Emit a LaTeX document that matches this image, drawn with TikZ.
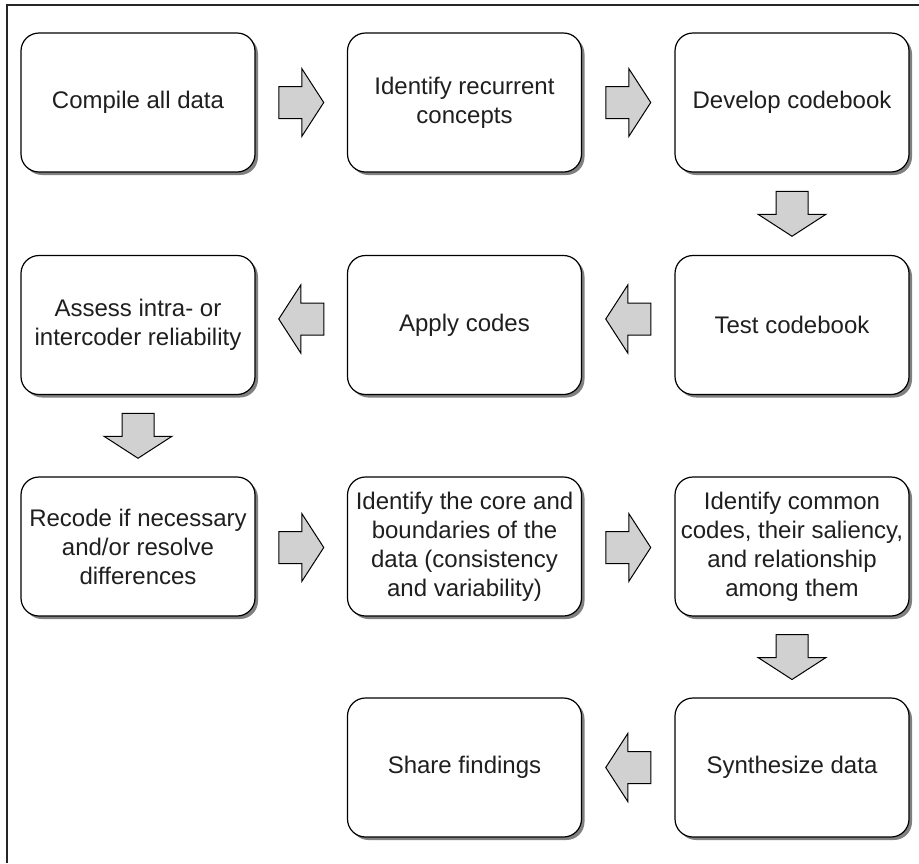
\documentclass[tikz,border=0pt]{standalone}
\usepackage{fontspec}
\setmainfont{Liberation Sans}
\usetikzlibrary{calc,shadows}
\tikzset{
  stepbox/.style={draw=black, line width=1.2pt, rounded corners=18pt, fill=white,
    minimum width=234pt, minimum height=139pt, align=center,
    font=\fontsize{24}{29}\selectfont, text=black!88, inner sep=2pt,
    drop shadow={shadow xshift=3pt, shadow yshift=-3pt, fill=black!50, opacity=1}},
  blockarrow/.style={draw=black, line width=1pt, fill=black!18, line join=miter},
  framerule/.style={draw=black!85, line width=1.5pt}
}
% horizontal block arrow between two nodes: #1 from, #2 to, #3 direction (1 or -1), #4 y offset
\newcommand{\HArrow}[4]{%
  \coordinate (hm) at ($(#1)!0.5!(#2)+(0,#4)$);
  \begin{scope}[shift={(hm)}, xscale=#3]
    \draw[blockarrow] (-22.5,-16) -- (0.5,-16) -- (0.5,-34) -- (22.5,0)
      -- (0.5,34) -- (0.5,16) -- (-22.5,16) -- cycle;
  \end{scope}}
% vertical (downward) block arrow between two nodes
\newcommand{\VArrow}[2]{%
  \coordinate (vm) at ($(#1)!0.5!(#2)$);
  \begin{scope}[shift={(vm)}]
    \draw[blockarrow] (-16,-22.5) -- (-16,0.5) -- (-34,0.5) -- (0,22.5)
      -- (34,0.5) -- (16,0.5) -- (16,-22.5) -- cycle;
  \end{scope}}
\begin{document}
\begin{tikzpicture}[x=1pt, y=-1pt]
  \useasboundingbox (0,0) rectangle (919,863);
  \draw[framerule] (7,863) -- (7,5) -- (919,5);

  % row 1
  \node[stepbox] (compile) at (138,102.5) {Compile all data};
  \node[stepbox] (identify) at (464.5,102.5) {Identify recurrent\\concepts};
  \node[stepbox] (develop) at (792,102.5) {Develop codebook};
  % row 2
  \node[stepbox] (assess) at (138,325) {Assess intra- or\\intercoder reliability};
  \node[stepbox] (apply) at (464.5,325) {Apply codes};
  \node[stepbox] (test) at (792,325) {Test codebook};
  % row 3
  \node[stepbox] (recode) at (138,546.5) {Recode if necessary\\and/or resolve\\differences};
  \node[stepbox] (core) at (464.5,546.5) {Identify the core and\\boundaries of the\\data (consistency\\and variability)};
  \node[stepbox] (common) at (792,546.5) {Identify common\\codes, their saliency,\\and relationship\\among them};
  % row 4
  \node[stepbox] (share) at (464.5,767.5) {Share findings};
  \node[stepbox] (synth) at (792,767.5) {Synthesize data};

  % arrows
  \HArrow{compile}{identify}{1}{0}
  \HArrow{identify}{develop}{1}{0}
  \VArrow{develop}{test}
  \HArrow{test}{apply}{-1}{-6}
  \HArrow{apply}{assess}{-1}{-6}
  \VArrow{assess}{recode}
  \HArrow{recode}{core}{1}{1}
  \HArrow{core}{common}{1}{1}
  \VArrow{common}{synth}
  \HArrow{synth}{share}{-1}{0}
\end{tikzpicture}
\end{document}
